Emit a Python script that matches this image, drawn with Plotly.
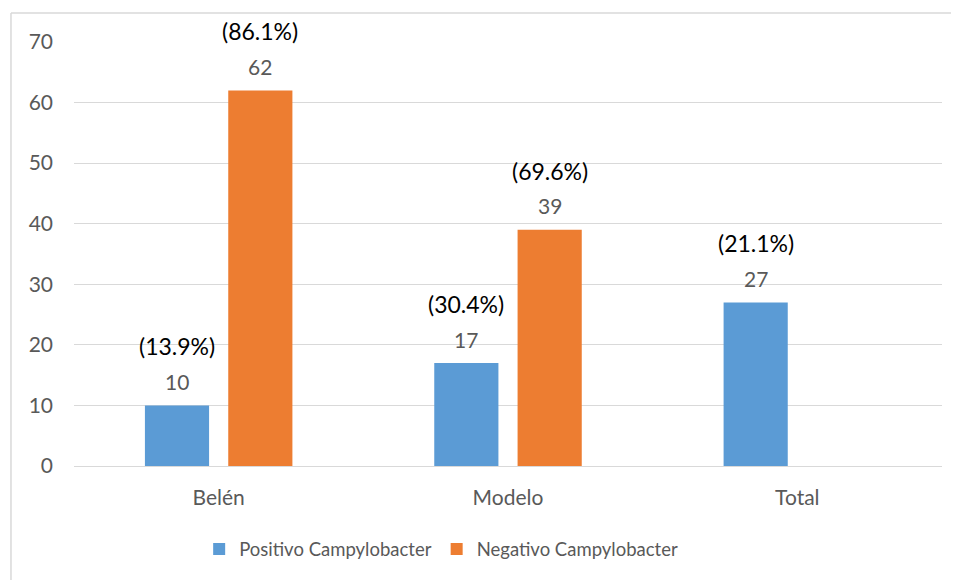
import plotly.graph_objects as go

categories = ["Belén", "Modelo", "Total"]
positivo = [10, 17, 27]
negativo = [62, 39, None]
pct_positivo = ["(13.9%)", "(30.4%)", "(21.1%)"]
pct_negativo = ["(86.1%)", "(69.6%)", None]
y_ticks = [0, 10, 20, 30, 40, 50, 60, 70]

BLUE = "#5B9BD5"
ORANGE = "#ED7D31"
GRAY = "#595959"
FONT = "Lato"

fig = go.Figure()
fig.add_bar(name="Positivo Campylobacter", x=categories, y=positivo,
            marker=dict(color=BLUE, line=dict(width=0)))
fig.add_bar(name="Negativo Campylobacter", x=categories, y=negativo,
            marker=dict(color=ORANGE, line=dict(width=0)))

off = 0.144
annots = []
for i, cat in enumerate(categories):
    for vals, pcts, sgn in ((positivo, pct_positivo, -1), (negativo, pct_negativo, 1)):
        v = vals[i]
        if v is None:
            continue
        annots.append(dict(x=i + sgn * off, y=v, xref="x", yref="y", text=str(v),
                           showarrow=False, yanchor="middle", yshift=24,
                           font=dict(size=21, color=GRAY, family=FONT)))
        annots.append(dict(x=i + sgn * off, y=v, xref="x", yref="y", text=pcts[i],
                           showarrow=False, yanchor="middle", yshift=59,
                           font=dict(size=23, color="#000000", family=FONT)))

fig.update_layout(
    width=951, height=572,
    margin=dict(l=66, r=17, t=34, b=114, pad=0),
    paper_bgcolor="white", plot_bgcolor="white",
    barmode="group", bargap=0.424, bargroupgap=0.23,
    font=dict(family=FONT, size=21, color=GRAY),
    showlegend=True,
    legend=dict(orientation="h", x=0.423, xanchor="center", y=-0.152, yanchor="top",
                font=dict(size=18.5, color=GRAY, family=FONT), itemwidth=30,
                traceorder="normal"),
    annotations=annots,
    shapes=[
        dict(type="line", xref="paper", yref="paper", x0=-0.0726, x1=1.03,
             y0=1.0684, y1=1.0684, line=dict(color="#D9D9D9", width=1.5)),
        dict(type="line", xref="paper", yref="paper", x0=-0.0726, x1=-0.0726,
             y0=1.0684, y1=-0.27, line=dict(color="#D9D9D9", width=1.5)),
    ],
)
fig.update_xaxes(showgrid=False, showline=True, linecolor="#D9D9D9", linewidth=1,
                 tickfont=dict(size=21, color=GRAY, family=FONT), ticks="",
                 ticklabelstandoff=13)
fig.update_yaxes(range=[0, 70], tickvals=y_ticks, showgrid=True, gridcolor="#D9D9D9",
                 gridwidth=1, zeroline=False, showline=False, ticks="",
                 tickfont=dict(size=21, color=GRAY, family=FONT), ticklabelstandoff=20)

fig.write_html("out.html")
